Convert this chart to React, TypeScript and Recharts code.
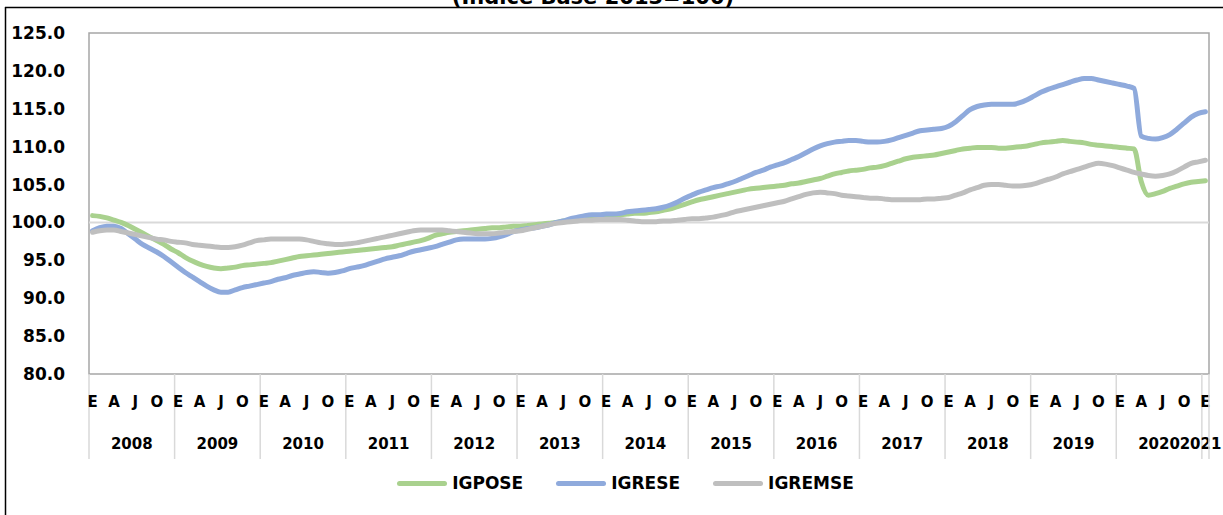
import React from "react";
import {
  Legend,
  Line,
  LineChart,
  ReferenceArea,
  ReferenceLine,
  XAxis,
  YAxis,
} from "recharts";

const FONT = "'DejaVu Sans', sans-serif";

const years = [2008, 2009, 2010, 2011, 2012, 2013, 2014, 2015, 2016, 2017, 2018, 2019, 2020, 2021];
const monthLetters = ["E", "F", "M", "A", "M", "J", "J", "A", "S", "O", "N", "D"];
const yTicks = [80, 85, 90, 95, 100, 105, 110, 115, 120, 125];

// monthly index values, Jan 2008 .. Jan 2021
const igpose = [
  100.9, 100.8, 100.6, 100.3, 100.0, 99.6, 99.1, 98.6, 98.1, 97.6, 97.1, 96.5,
  96.0, 95.4, 94.9, 94.5, 94.2, 94.0, 93.9, 94.0, 94.1, 94.3, 94.4, 94.5,
  94.6, 94.7, 94.9, 95.1, 95.3, 95.5, 95.6, 95.7, 95.8, 95.9, 96.0, 96.1,
  96.2, 96.3, 96.4, 96.5, 96.6, 96.7, 96.8, 97.0, 97.2, 97.4, 97.6, 97.9,
  98.3, 98.5, 98.7, 98.8, 98.9, 99.0, 99.1, 99.2, 99.3, 99.3, 99.4, 99.5,
  99.5, 99.6, 99.7, 99.8, 99.9, 100.0, 100.2, 100.3, 100.4, 100.5, 100.6, 100.7,
  100.8, 100.9, 101.0, 101.1, 101.2, 101.2, 101.3, 101.4, 101.6, 101.8, 102.1, 102.4,
  102.7, 103.0, 103.2, 103.4, 103.6, 103.8, 104.0, 104.2, 104.4, 104.5, 104.6, 104.7,
  104.8, 104.9, 105.1, 105.2, 105.4, 105.6, 105.8, 106.1, 106.4, 106.6, 106.8, 106.9,
  107.0, 107.2, 107.3, 107.5, 107.8, 108.1, 108.4, 108.6, 108.7, 108.8, 108.9, 109.1,
  109.3, 109.5, 109.7, 109.8, 109.9, 109.9, 109.9, 109.8, 109.8, 109.9, 110.0, 110.1,
  110.3, 110.5, 110.6, 110.7, 110.8, 110.7, 110.6, 110.5, 110.3, 110.2, 110.1, 110.0,
  109.9, 109.8, 109.7, 105.4, 103.6, 103.8, 104.1, 104.5, 104.8, 105.1, 105.3, 105.4,
  105.5,
];

const igrese = [
  98.9, 99.3, 99.5, 99.5, 99.2, 98.5, 97.8, 97.1, 96.6, 96.1, 95.5, 94.8,
  94.1, 93.4, 92.8, 92.2, 91.6, 91.1, 90.8, 90.8, 91.1, 91.4, 91.6, 91.8,
  92.0, 92.2, 92.5, 92.7, 93.0, 93.2, 93.4, 93.5, 93.4, 93.3, 93.4, 93.6,
  93.9, 94.1, 94.3, 94.6, 94.9, 95.2, 95.4, 95.6, 95.9, 96.2, 96.4, 96.6,
  96.8, 97.1, 97.4, 97.7, 97.8, 97.8, 97.8, 97.8, 97.9, 98.1, 98.4, 98.8,
  99.0, 99.2, 99.3, 99.5, 99.7, 100.0, 100.2, 100.5, 100.7, 100.9, 101.0, 101.0,
  101.1, 101.1, 101.2, 101.4, 101.5, 101.6, 101.7, 101.8, 102.0, 102.3, 102.7, 103.2,
  103.6, 104.0, 104.3, 104.6, 104.8, 105.1, 105.4, 105.8, 106.2, 106.6, 106.9, 107.3,
  107.6, 107.9, 108.3, 108.7, 109.2, 109.7, 110.1, 110.4, 110.6, 110.7, 110.8, 110.8,
  110.7, 110.6, 110.6, 110.7, 110.9, 111.2, 111.5, 111.8, 112.1, 112.2, 112.3, 112.4,
  112.7, 113.3, 114.1, 114.9, 115.3, 115.5, 115.6, 115.6, 115.6, 115.6, 115.8, 116.2,
  116.7, 117.2, 117.6, 117.9, 118.2, 118.5, 118.8, 119.0, 119.0, 118.8, 118.6, 118.4,
  118.2, 118.0, 117.7, 111.4, 111.1, 111.0, 111.2, 111.6, 112.3, 113.1, 113.9, 114.4,
  114.6,
];

const igremse = [
  98.7, 98.9, 99.0, 99.0, 98.8, 98.6, 98.4, 98.2, 98.0, 97.8, 97.7, 97.5,
  97.4, 97.3, 97.1, 97.0, 96.9, 96.8, 96.7, 96.7, 96.8, 97.0, 97.3, 97.6,
  97.7, 97.8, 97.8, 97.8, 97.8, 97.8, 97.7, 97.5, 97.3, 97.2, 97.1, 97.1,
  97.2, 97.3, 97.5, 97.7, 97.9, 98.1, 98.3, 98.5, 98.7, 98.9, 99.0, 99.0,
  99.0, 99.0, 98.9, 98.8, 98.7, 98.6, 98.5, 98.5, 98.5, 98.6, 98.7, 98.8,
  98.9, 99.1, 99.3, 99.5, 99.7, 99.9, 100.0, 100.1, 100.2, 100.3, 100.3, 100.4,
  100.4, 100.4, 100.4, 100.3, 100.2, 100.1, 100.1, 100.1, 100.2, 100.2, 100.3, 100.4,
  100.5, 100.5, 100.6, 100.7, 100.9, 101.1, 101.4, 101.6, 101.8, 102.0, 102.2, 102.4,
  102.6, 102.8, 103.1, 103.4, 103.7, 103.9, 104.0, 103.9, 103.8, 103.6, 103.5, 103.4,
  103.3, 103.2, 103.2, 103.1, 103.0, 103.0, 103.0, 103.0, 103.0, 103.1, 103.1, 103.2,
  103.3, 103.6, 103.9, 104.3, 104.6, 104.9, 105.0, 105.0, 104.9, 104.8, 104.8, 104.9,
  105.1, 105.4, 105.7, 106.0, 106.4, 106.7, 107.0, 107.3, 107.6, 107.8, 107.7, 107.5,
  107.2, 106.9, 106.6, 106.4, 106.2, 106.1, 106.2, 106.4, 106.8, 107.3, 107.8, 108.0,
  108.2,
];

const series = [
  { key: "igpose", name: "IGPOSE", color: "#a9d18e" },
  { key: "igrese", name: "IGRESE", color: "#8faadc" },
  { key: "igremse", name: "IGREMSE", color: "#bfbfbf" },
];

const data = igpose.map((v, i) => ({
  i,
  igpose: v,
  igrese: igrese[i],
  igremse: igremse[i],
}));

const lastIdx = data.length - 1;

// quarter months (E A J O), year boundaries, year centres
const monthTicks = data.filter((d) => d.i % 3 === 0).map((d) => d.i);
const boundaryTicks = years.map((_, k) => k * 12 - 0.5).concat([lastIdx + 0.5]);
const yearCenterTicks = years.slice(0, -1).map((_, k) => k * 12 + 5.5);
const xTicks = [...boundaryTicks, ...monthTicks, ...yearCenterTicks].sort((a, b) => a - b);

const labelStyle = { fontFamily: FONT, fontWeight: 700, fill: "#000" };

function XTick(props: any) {
  const { x, y, payload } = props;
  const v: number = payload.value;

  if (Number.isInteger(v)) {
    return (
      <g>
        <text x={x} y={y + 33} textAnchor="middle" fontSize={15} {...labelStyle}>
          {monthLetters[v % 12]}
        </text>
        {v === lastIdx && (
          <text x={x + 16} y={y + 75} textAnchor="end" fontSize={15} {...labelStyle}>
            {years[years.length - 1]}
          </text>
        )}
      </g>
    );
  }

  if ((v + 0.5) % 12 === 0 || v === lastIdx + 0.5) {
    return <line x1={x} x2={x} y1={y} y2={y + 85} stroke="#d9d9d9" strokeWidth={1.5} />;
  }

  const year = years[Math.round((v - 5.5) / 12)];
  return (
    <text x={x} y={y + 75} textAnchor="middle" fontSize={15} {...labelStyle}>
      {year}
    </text>
  );
}

function LegendContent() {
  return (
    <div
      style={{
        height: 30,
        display: "flex",
        alignItems: "center",
        justifyContent: "center",
        gap: 33,
        paddingLeft: 34,
        fontFamily: FONT,
        fontWeight: 700,
        fontSize: 17,
      }}
    >
      {series.map((s) => (
        <div key={s.key} style={{ display: "flex", alignItems: "center", gap: 5 }}>
          <span
            style={{
              display: "inline-block",
              width: 50,
              height: 5,
              borderRadius: 3,
              background: s.color,
            }}
          />
          <span>{s.name}</span>
        </div>
      ))}
    </div>
  );
}

export default function App() {
  return (
    <div style={{ position: "absolute", left: 0, top: 0, width: 1223, height: 515, background: "#fff" }}>
      <LineChart
        width={1223}
        height={515}
        data={data}
        margin={{ top: 33, right: 14, bottom: 17, left: 8 }}
      >
        <XAxis
          dataKey="i"
          type="number"
          domain={[-0.5, lastIdx + 0.5]}
          ticks={xTicks}
          interval={0}
          height={94}
          axisLine={false}
          tickLine={false}
          tickSize={0}
          tickMargin={0}
          tick={(p: any) => <XTick {...p} />}
          allowDataOverflow
        />
        <YAxis
          domain={[80, 125]}
          ticks={yTicks}
          interval={0}
          width={81}
          axisLine={false}
          tickLine={false}
          tickSize={0}
          tickMargin={24}
          tickFormatter={(v: number) => v.toFixed(1)}
          tick={{ ...labelStyle, fontSize: 17 }}
        />
        <ReferenceLine y={100} stroke="#d9d9d9" strokeWidth={2} />
        <ReferenceArea
          x1={-0.5}
          x2={lastIdx + 0.5}
          y1={80}
          y2={125}
          fill="none"
          fillOpacity={0}
          stroke="#a6a6a6"
          strokeWidth={1.5}
        />
        {series.map((s) => (
          <Line
            key={s.key}
            type="monotone"
            dataKey={s.key}
            name={s.name}
            stroke={s.color}
            strokeWidth={5}
            strokeLinecap="round"
            dot={false}
            isAnimationActive={false}
          />
        ))}
        <Legend verticalAlign="bottom" content={() => <LegendContent />} />
      </LineChart>
      <svg
        width={1223}
        height={515}
        style={{ position: "absolute", left: 0, top: 0, pointerEvents: "none" }}
      >
        <text x={593} y={4} textAnchor="middle" fontSize={21} {...labelStyle}>
          (Índice Base 2013=100)
        </text>
        <line x1={5} x2={1223} y1={7.5} y2={7.5} stroke="#000" strokeWidth={1.5} />
        <line x1={5.5} x2={5.5} y1={7} y2={515} stroke="#000" strokeWidth={1.5} />
      </svg>
    </div>
  );
}
